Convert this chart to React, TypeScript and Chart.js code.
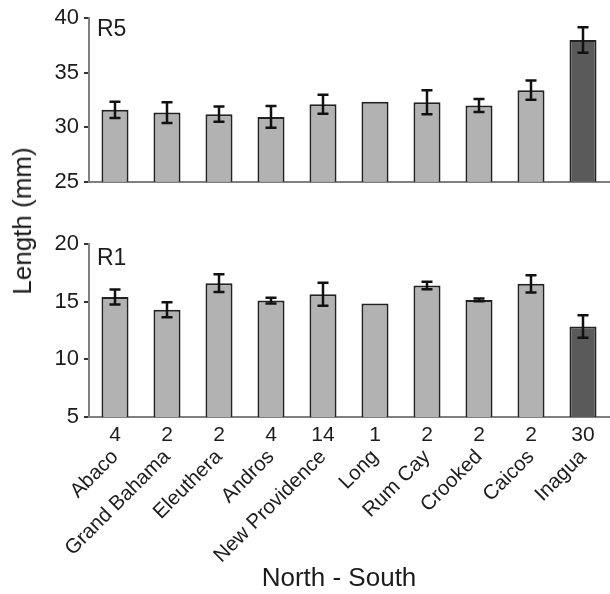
import React, { useEffect, useRef } from "react";
import { Chart, registerables } from "chart.js";

Chart.register(...registerables);

// ---------- data ----------
const islands = [
  "Abaco",
  "Grand Bahama",
  "Eleuthera",
  "Andros",
  "New Providence",
  "Long",
  "Rum Cay",
  "Crooked",
  "Caicos",
  "Inagua",
];
const sampleSizes = ["4", "2", "2", "4", "14", "1", "2", "2", "2", "30"];

const r5Means = [31.6, 31.35, 31.2, 30.95, 32.1, 32.35, 32.3, 32.0, 33.4, 38.0];
const r5Errors = [0.75, 0.95, 0.7, 1.0, 0.87, 0, 1.1, 0.6, 0.88, 1.17];

const r1Means = [15.4, 14.3, 16.6, 15.1, 15.65, 14.85, 16.4, 15.15, 16.55, 12.85];
const r1Errors = [0.65, 0.65, 0.77, 0.25, 1.0, 0, 0.33, 0.12, 0.75, 0.98];

const r5Range = [25, 40];
const r1Range = [5, 20];
const tickStep = 5;

const highlighted = "Inagua";
const yTitle = "Length (mm)";
const xTitle = "North - South";

// ---------- styles ----------
const FONT = "'Liberation Sans', Arial, Helvetica, sans-serif";
const LIGHT = "#b2b2b2";
const DARK = "#5a5a5a";
const AXIS = "#808080";
const TEXT = "#1c1c1c";

const errorBarsPlugin = {
  id: "errorBars",
  afterDatasetsDraw(chart: any, _args: any, opts: any) {
    const errors: number[] = opts.errors || [];
    const meta = chart.getDatasetMeta(0);
    const ys = chart.scales.y;
    const values = chart.data.datasets[0].data as number[];
    const ctx = chart.ctx;
    ctx.save();
    ctx.strokeStyle = "#111";
    ctx.lineWidth = 2.5;
    meta.data.forEach((bar: any, i: number) => {
      const e = errors[i];
      if (!e) return;
      const v = values[i];
      const x = bar.x;
      const y1 = ys.getPixelForValue(v + e);
      const y2 = ys.getPixelForValue(v - e);
      const cap = 5.5;
      ctx.beginPath();
      ctx.moveTo(x, y1);
      ctx.lineTo(x, y2);
      ctx.moveTo(x - cap, y1);
      ctx.lineTo(x + cap, y1);
      ctx.moveTo(x - cap, y2);
      ctx.lineTo(x + cap, y2);
      ctx.stroke();
    });
    ctx.restore();
  },
};

const panelLabelPlugin = {
  id: "panelLabel",
  afterDraw(chart: any, _args: any, opts: any) {
    const { ctx, chartArea } = chart;
    ctx.save();
    ctx.font = `23px ${FONT}`;
    ctx.fillStyle = TEXT;
    ctx.textAlign = "left";
    ctx.textBaseline = "alphabetic";
    ctx.fillText(opts.text, chartArea.left + 8, chartArea.top + opts.dy);
    ctx.restore();
  },
};

function barColor(ctx: any) {
  return islands[ctx.dataIndex] === highlighted ? DARK : LIGHT;
}

function yScale(range: number[]) {
  return {
    min: range[0],
    max: range[1],
    afterFit: (s: any) => {
      s.width = 89;
    },
    ticks: {
      stepSize: tickStep,
      color: TEXT,
      padding: 5,
      font: { size: 22, family: FONT },
    },
    grid: {
      drawOnChartArea: false,
      drawTicks: true,
      tickLength: 5,
      tickColor: "#333",
      lineWidth: 2,
    },
    border: { display: true, color: AXIS, width: 2 },
  };
}

function dataset(values: number[]) {
  return {
    data: values,
    backgroundColor: barColor,
    borderColor: "#222",
    borderWidth: 2,
    borderSkipped: false,
    categoryPercentage: 1,
    barPercentage: 0.52,
  };
}

export default function App() {
  const topRef = useRef<HTMLCanvasElement>(null);
  const botRef = useRef<HTMLCanvasElement>(null);

  useEffect(() => {
    const top = new Chart(topRef.current!, {
      type: "bar",
      data: { labels: islands, datasets: [dataset(r5Means) as any] },
      options: {
        responsive: false,
        animation: false,
        layout: { padding: { top: 15, bottom: 14, left: 0, right: 1 } },
        scales: {
          x: {
            type: "category",
            offset: true,
            afterFit: (s: any) => {
              s.height = 0;
            },
            ticks: { display: false },
            grid: { display: false, drawTicks: false },
            border: { display: true, color: AXIS, width: 2 },
          },
          y: yScale(r5Range) as any,
        },
        plugins: {
          legend: { display: false },
          tooltip: { enabled: false },
          errorBars: { errors: r5Errors },
          panelLabel: { text: "R5", dy: 18 },
        } as any,
      },
      plugins: [errorBarsPlugin, panelLabelPlugin],
    });

    const bot = new Chart(botRef.current!, {
      type: "bar",
      data: { labels: islands, datasets: [dataset(r1Means) as any] },
      options: {
        responsive: false,
        animation: false,
        layout: { padding: { top: 44, bottom: 0, left: 0, right: 1 } },
        scales: {
          x: {
            type: "category",
            labels: sampleSizes,
            offset: true,
            position: "bottom",
            afterFit: (s: any) => {
              s.height = 28;
            },
            ticks: {
              color: TEXT,
              padding: 6,
              autoSkip: false,
              maxRotation: 0,
              font: { size: 21, family: FONT },
            },
            grid: { display: false, drawTicks: false },
            border: { display: true, color: AXIS, width: 2 },
          },
          x2: {
            type: "category",
            labels: islands,
            offset: true,
            position: "bottom",
            afterFit: (s: any) => {
              s.height = 149;
            },
            ticks: {
              color: TEXT,
              padding: 0,
              autoSkip: false,
              minRotation: 45,
              maxRotation: 45,
              font: { size: 20.5, family: FONT },
            },
            grid: { display: false, drawTicks: false },
            border: { display: false },
          },
          y: yScale(r1Range) as any,
        },
        plugins: {
          legend: { display: false },
          tooltip: { enabled: false },
          errorBars: { errors: r1Errors },
          panelLabel: { text: "R1", dy: 21 },
        } as any,
      },
      plugins: [errorBarsPlugin, panelLabelPlugin],
    });

    return () => {
      top.destroy();
      bot.destroy();
    };
  }, []);

  return (
    <div
      style={{
        position: "fixed",
        left: 0,
        top: 0,
        width: 610,
        height: 594,
        background: "#fff",
        fontFamily: FONT,
      }}
    >
      <canvas
        ref={topRef}
        width={610}
        height={200}
        style={{ position: "absolute", left: 0, top: 0 }}
      />
      <canvas
        ref={botRef}
        width={610}
        height={394}
        style={{ position: "absolute", left: 0, top: 200 }}
      />
      <div
        style={{
          position: "absolute",
          left: 22,
          top: 221,
          transform: "translate(-50%, -50%) rotate(-90deg)",
          whiteSpace: "nowrap",
          fontSize: 26,
          color: TEXT,
          lineHeight: 1,
        }}
      >
        {yTitle}
      </div>
      <div
        style={{
          position: "absolute",
          left: 339,
          top: 577,
          transform: "translate(-50%, -50%)",
          whiteSpace: "nowrap",
          fontSize: 26,
          color: TEXT,
          lineHeight: 1,
        }}
      >
        {xTitle}
      </div>
    </div>
  );
}
